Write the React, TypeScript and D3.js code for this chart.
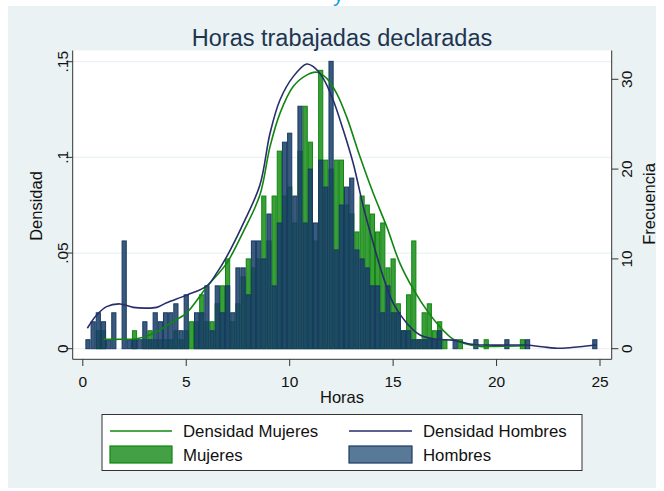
import React from "react";
import * as d3 from "d3";

// Histogram bin centers (hours, bin width 0.25)
const binWidth = 0.25;
const horas: number[] = [
  0.25, 0.5, 0.75, 1.0, 1.25, 1.5, 1.75, 2.0, 2.25, 2.5, 2.75, 3.0, 3.25, 3.5, 3.75, 4.0,
  4.25, 4.5, 4.75, 5.0, 5.25, 5.5, 5.75, 6.0, 6.25, 6.5, 6.75, 7.0, 7.25, 7.5, 7.75, 8.0,
  8.25, 8.5, 8.75, 9.0, 9.25, 9.5, 9.75, 10.0, 10.25, 10.5, 10.75, 11.0, 11.25, 11.5, 11.75, 12.0,
  12.25, 12.5, 12.75, 13.0, 13.25, 13.5, 13.75, 14.0, 14.25, 14.5, 14.75, 15.0, 15.25, 15.5, 15.75, 16.0,
  16.25, 16.5, 16.75, 17.0, 17.25, 17.5, 17.75, 18.0, 18.25, 18.5, 18.75, 19.0, 19.25, 19.5, 19.75, 20.0,
  20.25, 20.5, 20.75, 21.0, 21.25, 21.5, 21.75, 22.0, 22.25, 22.5, 22.75, 23.0, 23.25, 23.5, 23.75, 24.0,
  24.25, 24.5, 24.75,
];
const freqHombres: number[] = [
  1, 3, 4, 3, 1, 4, 0, 12, 1, 1, 1, 3, 1, 4, 3, 4,
  4, 5, 2, 6, 0, 4, 4, 7, 2, 7, 4, 7, 4, 9, 9, 6,
  12, 12, 10, 15, 7, 14, 23, 24, 17, 27, 14, 20, 14, 21, 18, 32,
  11, 16, 18, 19, 11, 10, 9, 7, 7, 4, 7, 4, 4, 2, 2, 1,
  1, 1, 1, 1, 2, 0, 0, 1, 0, 0, 0, 1, 0, 0, 0, 0,
  0, 1, 0, 0, 0, 1, 0, 0, 0, 0, 0, 0, 0, 0, 0, 0,
  0, 0, 1,
];
const freqMujeres: number[] = [
  0, 0, 2, 2, 0, 0, 0, 0, 0, 2, 0, 1, 2, 1, 1, 1,
  1, 2, 1, 2, 3, 3, 6, 3, 3, 5, 7, 10, 3, 5, 8, 10,
  9, 10, 17, 12, 17, 22, 17, 18, 14, 22, 27, 23, 12, 31, 21, 20,
  21, 21, 16, 15, 13, 17, 16, 15, 13, 14, 9, 10, 5, 2, 6, 12,
  1, 4, 5, 2, 3, 1, 0, 0, 1, 0, 0, 0, 0, 1, 0, 0,
  0, 0, 0, 0, 1, 0, 0, 0, 0, 0, 0, 0, 0, 0, 0, 0,
  0, 0, 0,
];

// Kernel density curves
const densHorasH: number[] = [
  0.22, 0.67, 1.15, 1.8, 2.44, 3.0, 3.57, 4.05, 5.02, 6.0, 6.5, 6.95, 7.76, 8.56, 9.05, 9.53,
  10.17, 10.82, 11.14, 11.62, 12.1, 12.59, 13.07, 13.56, 14.04, 14.52, 15.01, 15.66, 16.3, 17.1,
  17.9, 18.7, 19.5, 20.5, 21.4, 22.2, 23.07, 24.0, 24.83,
];
const densHombres: number[] = [
  0.0107, 0.0176, 0.022, 0.0234, 0.0216, 0.0212, 0.0216, 0.024, 0.028, 0.0328, 0.04, 0.048, 0.0655, 0.0855, 0.1126, 0.13,
  0.1422, 0.1488, 0.1474, 0.1413, 0.13, 0.1143, 0.0969, 0.0742, 0.0551, 0.0376, 0.0237, 0.0133, 0.0072, 0.0049,
  0.0045, 0.0025, 0.0019, 0.0019, 0.0019, 0.001, 0.0002, 0.001, 0.0019,
];
const densHorasM: number[] = [
  1.0, 1.8, 2.6, 3.2, 3.73, 4.4, 5.0, 6.0, 6.95, 7.76, 8.56, 9.05, 9.53, 10.17, 10.82, 11.3,
  11.79, 12.27, 12.75, 13.4, 14.04, 14.69, 15.33, 15.98, 16.7, 17.3, 17.9, 18.4, 19.2, 20.0, 21.0, 21.3,
];
const densMujeres: number[] = [
  0.0049, 0.0049, 0.0052, 0.007, 0.0098, 0.0145, 0.0185, 0.0324, 0.0446, 0.0612, 0.0803, 0.1056, 0.123, 0.137, 0.143, 0.1445,
  0.1413, 0.1335, 0.1213, 0.1003, 0.0812, 0.0638, 0.0446, 0.031, 0.019, 0.011, 0.005, 0.0028, 0.0012, 0.0012, 0.0014, 0.0014,
];

const xTicks = [0, 5, 10, 15, 20, 25];
const yDensTicks = [0, 0.05, 0.1, 0.15];
const yDensLabels = ["0", ".05", ".1", ".15"];
const yFreqTicks = [0, 10, 20, 30];

const W = 664;
const H = 491;
const plotLeft = 72.7;
const plotRight = 611.7;
const plotTop = 50.5;
const plotBottom = 359.3;

const GREEN_FILL = "#2f9a2f";
const GREEN_LINE = "#108610";
const BLUE_FILL = "#173f6a";
const BLUE_LINE = "#1a3a60";
const NAVY = "#262f6b";
const BG = "#eaf2f3";
const FONT = "'Liberation Sans', Arial, sans-serif";

export default function App() {
  const x = d3.scaleLinear().domain([0, 25]).range([82.8, 600]);
  const yD = d3.scaleLinear().domain([0, 0.15]).range([348.7, 61.7]);
  const yF = d3.scaleLinear().domain([0, 30]).range([348.7, 79.3]);

  const lineH = d3
    .line<number>()
    .x((_, i) => x(densHorasH[i]))
    .y((d) => yD(d))
    .curve(d3.curveCatmullRom.alpha(0.5));
  const lineM = d3
    .line<number>()
    .x((_, i) => x(densHorasM[i]))
    .y((d) => yD(d))
    .curve(d3.curveCatmullRom.alpha(0.5));

  const bars = (freq: number[], fill: string, stroke: string, op: number, key: string) =>
    horas.map((h, i) =>
      freq[i] > 0 ? (
        <rect
          key={key + i}
          x={x(h - binWidth / 2) + 0.5}
          y={yF(freq[i])}
          width={x(h + binWidth / 2) - x(h - binWidth / 2) - 1}
          height={yF(0) - yF(freq[i])}
          fill={fill}
          fillOpacity={op}
          stroke={stroke}
          strokeWidth={1}
        />
      ) : null
    );

  return (
    <svg
      width={W}
      height={H}
      style={{ position: "absolute", left: 0, top: 0, background: "#fff" }}
      fontFamily={FONT}
    >
      <text x={333} y={1} fontSize={22} fill="#1a9ee8" fontFamily={FONT}>
        y
      </text>
      <rect x={8} y={6} width={648} height={482} fill={BG} />
      <rect x={plotLeft} y={plotTop} width={plotRight - plotLeft} height={plotBottom - plotTop} fill="#fff" />
      {/* gridlines */}
      {yDensTicks.map((t) => (
        <line key={"g" + t} x1={plotLeft} x2={plotRight} y1={yD(t)} y2={yD(t)} stroke={BG} strokeWidth={1.2} />
      ))}
      {/* histograms */}
      <g>{bars(freqMujeres, GREEN_FILL, GREEN_LINE, 0.95, "m")}</g>
      <g>{bars(freqHombres, BLUE_FILL, BLUE_LINE, 0.86, "h")}</g>
      {/* density lines */}
      <path d={lineM(densMujeres) || ""} fill="none" stroke={GREEN_LINE} strokeWidth={1.6} />
      <path d={lineH(densHombres) || ""} fill="none" stroke={NAVY} strokeWidth={1.6} />
      {/* axes */}
      <line x1={plotLeft} x2={plotLeft} y1={plotTop} y2={plotBottom} stroke="#333" strokeWidth={1} />
      <line x1={plotRight} x2={plotRight} y1={plotTop} y2={plotBottom} stroke="#333" strokeWidth={1} />
      <line x1={plotLeft} x2={plotRight} y1={plotBottom} y2={plotBottom} stroke="#333" strokeWidth={1} />
      {yDensTicks.map((t, i) => (
        <g key={"yl" + t}>
          <line x1={66} x2={plotLeft} y1={yD(t)} y2={yD(t)} stroke="#333" />
          <text
            transform={`translate(68,${yD(t)}) rotate(-90)`}
            textAnchor="middle"
            fontSize={15.5}
            fill="#111"
          >
            {yDensLabels[i]}
          </text>
        </g>
      ))}
      {yFreqTicks.map((t) => (
        <g key={"yr" + t}>
          <line x1={plotRight} x2={618.4} y1={yF(t)} y2={yF(t)} stroke="#333" />
          <text
            transform={`translate(632,${yF(t)}) rotate(-90)`}
            textAnchor="middle"
            fontSize={15.5}
            fill="#111"
          >
            {t}
          </text>
        </g>
      ))}
      {xTicks.map((t) => (
        <g key={"x" + t}>
          <line x1={x(t)} x2={x(t)} y1={plotBottom} y2={366} stroke="#333" />
          <text x={x(t)} y={387} textAnchor="middle" fontSize={15.5} fill="#111">
            {t}
          </text>
        </g>
      ))}
      <text x={342} y={403} textAnchor="middle" fontSize={16.5} fill="#111">
        Horas
      </text>
      <text transform={`translate(42,206) rotate(-90)`} textAnchor="middle" fontSize={16.5} fill="#111">
        Densidad
      </text>
      <text transform={`translate(655,204) rotate(-90)`} textAnchor="middle" fontSize={16.5} fill="#111">
        Frecuencia
      </text>
      <text x={342} y={46} textAnchor="middle" fontSize={23.5} fill="#1e3552">
        Horas trabajadas declaradas
      </text>
      {/* legend */}
      <rect x={102} y={414.5} width={480} height={56} fill="#fff" stroke="#333" strokeWidth={1} />
      <line x1={110} x2={172} y1={431} y2={431} stroke={GREEN_LINE} strokeWidth={1.6} />
      <text x={183} y={437} fontSize={16.8} fill="#111">
        Densidad Mujeres
      </text>
      <line x1={349} x2={412} y1={431} y2={431} stroke={NAVY} strokeWidth={1.6} />
      <text x={423} y={437} fontSize={16.8} fill="#111">
        Densidad Hombres
      </text>
      <rect x={110} y={446} width={62} height={17} fill="#44a044" stroke={GREEN_LINE} strokeWidth={1.2} />
      <text x={183} y={461} fontSize={16.8} fill="#111">
        Mujeres
      </text>
      <rect x={349} y={446} width={63} height={17} fill="#587a98" stroke={BLUE_LINE} strokeWidth={1.2} />
      <text x={423} y={461} fontSize={16.8} fill="#111">
        Hombres
      </text>
    </svg>
  );
}
